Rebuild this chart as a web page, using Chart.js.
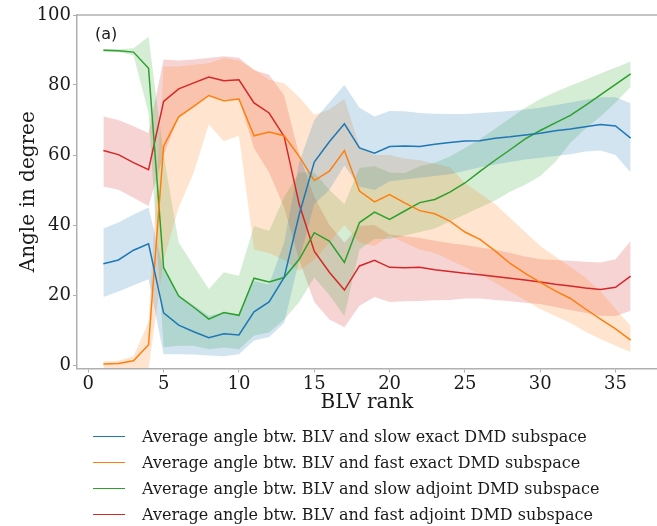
<!DOCTYPE html>
<html>
<head>
<meta charset="utf-8">
<script src="https://cdn.jsdelivr.net/npm/chart.js@4.4.1/dist/chart.umd.min.js"></script>
<style>
  body { margin: 0; background: #fff; }
  #wrap { position: relative; width: 657px; height: 526px; }
  #legend { position: absolute; left: 93px; top: 424px; font-family: "DejaVu Serif", serif; font-size: 16px; color: #1a1a1a; }
  #legend .row { height: 25.8px; display: flex; align-items: center; white-space: nowrap; }
  #legend .swatch { width: 32px; height: 0; border-top: 1.5px solid; margin-right: 17px; }
</style>
</head>
<body>
<div id="wrap">
  <canvas id="angleChart" width="657" height="526"></canvas>
  <div id="legend"></div>
</div>
<script>
// BLV rank 1..36
const ranks = [1,2,3,4,5,6,7,8,9,10,11,12,13,14,15,16,17,18,19,20,21,22,23,24,25,26,27,28,29,30,31,32,33,34,35,36];

// slow exact DMD subspace
const slowExact = [28.9,30,32.8,34.6,14.9,11.4,9.5,7.8,8.9,8.6,15.2,18,25,43,58,63.8,68.9,62,60.5,62.4,62.6,62.4,63.1,63.6,64,64.1,64.8,65.2,65.7,66.2,66.9,67.4,68.1,68.7,68.3,64.8];
const slowExactHi = [39,40.7,43,45,27,20,17,14,15,14.5,24,23,35,58,70,75,80,73.5,71,72.6,72.5,72,71.8,71.7,71.7,72,72.3,72.6,73,73.5,74.2,75,75.8,76.5,76.5,74.8];
const slowExactLo = [19.4,21,22.8,24.5,3.1,3.1,3,2.7,2.5,3.1,7,8,12,30,46,50,57,51,50,52.5,53,53.5,54,54.5,55.5,56.5,57.3,58,58.7,59.2,59.7,60.2,61,61.3,60,55];

// fast exact DMD subspace
const fastExact = [0.3,0.4,1.2,5.8,62.5,70.9,73.9,77,75.5,76,65.5,66.6,65.5,59.6,52.7,55.4,61.3,49.7,46.6,48.7,46.3,44.1,43.2,41.1,38,35.9,32.6,29,26.2,23.6,21.2,19,16,13.1,10.3,7.1];
const fastExactHi = [1,1.2,2.5,12.3,85.3,85.3,85.8,86.2,87.7,87,84.5,81.5,80.5,76.5,71.5,73,76,62.5,60,60,59,58.5,57.5,56.5,52,49,46,42,38,34,31,28,25,21,16,11.2];
const fastExactLo = [-1,-1,-1,-1,30,45,55,68.7,63.9,65.5,33,32,30,27,30,35,40,35,34,37,35,33,32,30,28,26,23.5,21,18.5,16,14,12,9.5,7.4,5.5,3.7];

// slow adjoint DMD subspace
const slowAdjoint = [89.9,89.8,89.4,84.8,27.8,19.7,16.5,13.1,15,14.2,24.8,23.7,25,30.2,37.8,35.4,29.3,40.7,43.7,41.6,44,46.4,47.3,49.4,52,55.3,58.5,61.5,64.6,67,69.2,71.3,74.2,77.2,80.2,83.2];
const slowAdjointHi = [90.3,90.2,90.5,93.8,60,35,28.3,21.7,26.5,25.5,39.7,38.3,48,55,55,50,46,56.3,56.8,55,54.8,56.8,57.8,59.6,62,64.5,67.5,70.5,73.5,76,78,79.8,81.5,83.3,85,86.7];
const slowAdjointLo = [89.5,89.4,88.5,72,5.1,5.5,5.5,4.5,5,4.5,8.4,9.3,13,18,25,20,14,33,36,36,37,38,39,41,43,45,47,49.5,51.5,54,58,63.5,67.5,71,75,79.4];

// fast adjoint DMD subspace
const fastAdjoint = [61.3,60.1,57.8,55.8,75.3,78.9,80.6,82.3,81.2,81.5,74.9,72,65.3,45.9,32.5,26.5,21.4,28.3,29.9,27.9,27.8,27.9,27.2,26.7,26.2,25.8,25.3,24.8,24.3,23.7,23.1,22.6,22,21.6,22.2,25.4];
const fastAdjointHi = [71,70,68.2,66.3,87.3,87,87.3,87.7,88.2,87.8,84.2,82.9,77,60,48,40,35,39.7,40,37.3,36.8,36.3,35.5,34.8,34.3,33.6,32.9,32,31,30.2,30,29.8,29.5,29.3,30.2,35.4];
const fastAdjointLo = [51,50.1,47.8,45.4,60,71,74,77,76,76,62,55,45,30,18,13,10.8,16.9,19.4,18,18.2,18.3,18.5,18.6,19,19,18.6,18.2,17.8,17.4,16.6,15.7,14.9,14.1,14,15.5];

const seriesLabels = [
  'Average angle btw. BLV and slow exact DMD subspace',
  'Average angle btw. BLV and fast exact DMD subspace',
  'Average angle btw. BLV and slow adjoint DMD subspace',
  'Average angle btw. BLV and fast adjoint DMD subspace'
];
const xTicks = [0,5,10,15,20,25,30,35];
const yTicks = [0,20,40,60,80,100];

const lineColors = ['#1f77b4', '#ff7f0e', '#2ca02c', '#d62728'];
const bandColors = ['rgba(31,119,180,0.2)', 'rgba(255,127,14,0.2)', 'rgba(44,160,44,0.2)', 'rgba(214,39,40,0.2)'];

const series = [
  [slowExact, slowExactHi, slowExactLo],
  [fastExact, fastExactHi, fastExactLo],
  [slowAdjoint, slowAdjointHi, slowAdjointLo],
  [fastAdjoint, fastAdjointHi, fastAdjointLo]
];

function pts(arr) {
  return arr.map((v, i) => ({ x: ranks[i], y: v }));
}

var datasets = [];
series.forEach((s, k) => {
  datasets.push({ data: pts(s[1]), borderWidth: 0, pointRadius: 0, fill: false, order: 10 + k });
  datasets.push({ data: pts(s[2]), borderWidth: 0, pointRadius: 0, fill: '-1', backgroundColor: bandColors[k], order: 10 + k });
  datasets.push({ label: seriesLabels[k], data: pts(s[0]), borderColor: lineColors[k], borderWidth: 1.5, pointRadius: 0, fill: false, order: k });
});

const spineColor = '#b0b0b0';

// top spine + panel tag
const extras = {
  id: 'extras',
  afterDraw(chart) {
    const { ctx, chartArea } = chart;
    ctx.save();
    ctx.strokeStyle = spineColor;
    ctx.lineWidth = 1.5;
    ctx.beginPath();
    ctx.moveTo(chartArea.left, chartArea.top);
    ctx.lineTo(chartArea.right, chartArea.top);
    ctx.stroke();
    ctx.fillStyle = '#1a1a1a';
    ctx.font = '16px "DejaVu Sans"';
    ctx.textBaseline = 'middle';
    ctx.fillText('(a)', chartArea.left + 18, chartArea.top + 20);
    ctx.restore();
  }
};

const ctx = document.getElementById('angleChart').getContext('2d');
new Chart(ctx, {
  type: 'line',
  data: { datasets: datasets },
  options: {
    responsive: false,
    animation: false,
    layout: { padding: { top: 15, right: 0, bottom: 107.5, left: 0 } },
    plugins: { legend: { display: false }, tooltip: { enabled: false } },
    elements: { line: { tension: 0 } },
    scales: {
      x: {
        type: 'linear',
        min: -0.75,
        max: 37.75,
        afterFit(scale) { scale.height = 50; },
        afterBuildTicks(scale) { scale.ticks = xTicks.map(v => ({ value: v })); },
        border: { color: spineColor, width: 1.5 },
        grid: { drawOnChartArea: false, color: spineColor, tickLength: 4 },
        ticks: { color: '#1a1a1a', font: { family: 'DejaVu Serif', size: 18 }, padding: 1, maxRotation: 0 },
        title: { display: true, text: 'BLV rank', color: '#1a1a1a', font: { family: 'DejaVu Serif', size: 20 }, padding: { top: 0, bottom: 3.5 } }
      },
      y: {
        type: 'linear',
        min: -1,
        max: 100,
        afterFit(scale) { scale.width = 77; },
        afterBuildTicks(scale) { scale.ticks = yTicks.map(v => ({ value: v })); },
        border: { color: spineColor, width: 1.5 },
        grid: { drawOnChartArea: false, color: spineColor, tickLength: 4 },
        ticks: { color: '#1a1a1a', font: { family: 'DejaVu Serif', size: 18 }, padding: 2 },
        title: { display: true, text: 'Angle in degree', color: '#1a1a1a', font: { family: 'DejaVu Serif', size: 20 }, padding: { top: 17, bottom: 0 } }
      }
    }
  },
  plugins: [extras]
});

// legend under the axes
const legend = document.getElementById('legend');
seriesLabels.forEach((lab, k) => {
  const row = document.createElement('div');
  row.className = 'row';
  const sw = document.createElement('span');
  sw.className = 'swatch';
  sw.style.borderTopColor = lineColors[k];
  const tx = document.createElement('span');
  tx.textContent = lab;
  row.appendChild(sw);
  row.appendChild(tx);
  legend.appendChild(row);
});
</script>
</body>
</html>
